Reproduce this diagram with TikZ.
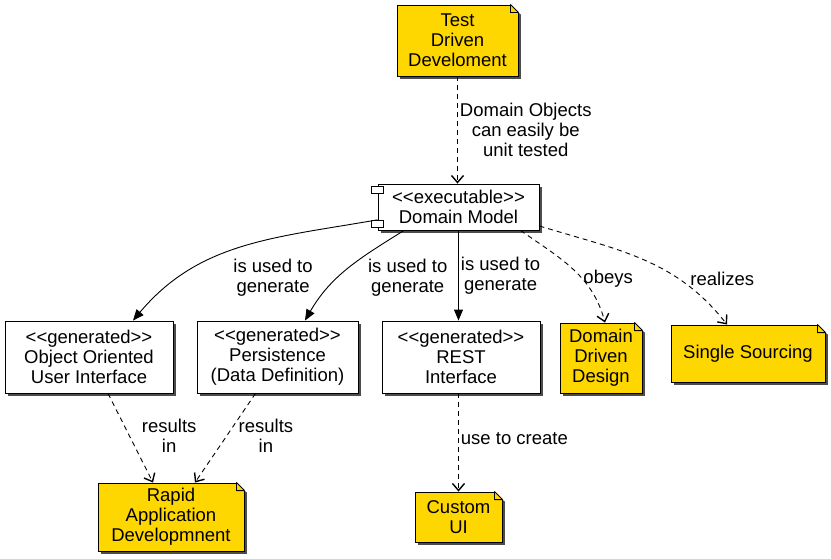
\documentclass[tikz,border=0pt]{standalone}
\usepackage{fontspec}
\setmainfont{Liberation Sans}
\usetikzlibrary{arrows.meta,shadows}
\definecolor{notegold}{RGB}{255,215,0}
\newcommand{\stereo}[1]{<\kern0pt<#1>\kern0pt>}
\tikzset{box/.style={draw,fill=white,align=center,line width=0.9pt,inner sep=2pt,
    drop shadow={shadow xshift=3pt,shadow yshift=-3pt,fill=black!70,opacity=1}},
  note/.style={box,fill=notegold},
  lbl/.style={align=center,inner sep=2pt},
  arr/.style={-{Triangle[length=11pt,width=9pt]},line width=0.9pt},
  dep/.style={-{Straight Barb[length=7pt,width=12pt,line width=1.4pt]},line width=0.9pt,dash pattern=on 5pt off 4pt}}

\begin{document}
\begin{tikzpicture}[x=1pt,y=1pt,font=\fontsize{18.5}{20}\selectfont]
\fill[white,use as bounding box] (0,0) rectangle (831,-559);
\node[note,minimum width=121pt,minimum height=71pt] (tdd) at (457.5,-40.5) {Test\\Driven\\Develoment};
\node[box,minimum width=161pt,minimum height=46pt] (dm) at (458.5,-207) {\stereo{executable}\\Domain Model};
\node[box,minimum width=168pt,minimum height=72pt] (ooui) at (89,-357) {\stereo{generated}\\Object Oriented\\User Interface};
\node[box,minimum width=161pt,minimum height=72pt] (pers) at (277.5,-357) {\stereo{generated}\\Persistence\\(Data Definition)};
\node[box,minimum width=158pt,minimum height=72pt] (rest) at (461,-357) {\stereo{generated}\\REST\\Interface};
\node[note,minimum width=82pt,minimum height=70pt] (ddd) at (601,-358) {Domain\\Driven\\Design};
\node[note,minimum width=154pt,minimum height=57pt] (ss) at (748,-353.5) {Single Sourcing};
\node[note,minimum width=146pt,minimum height=68pt] (rad) at (171,-517) {Rapid\\Application\\Developmnent};
\node[note,minimum width=87pt,minimum height=50pt] (cui) at (458.5,-517) {Custom\\UI};
% folded corners of the notes
\foreach \n in {tdd,ddd,ss,rad,cui}{
  \fill[white] ([xshift=-8pt,yshift=1pt]\n.north east) -- ([xshift=4pt,yshift=1pt]\n.north east)
    -- ([xshift=4pt,yshift=-11pt]\n.north east) -- ([yshift=-8pt]\n.north east) -- ([xshift=-8pt]\n.north east) -- cycle;
  \draw[fill=notegold,line width=0.9pt,line join=bevel] ([xshift=-8pt]\n.north east) -- ([yshift=-8pt]\n.north east)
    -- ([shift={(-8pt,-8pt)}]\n.north east) -- cycle;
}
% component icon
\foreach \dy in {3,37}
  \draw[fill=white,line width=0.9pt] ([shift={(-6pt,-\dy pt)}]dm.north west) rectangle ++(12pt,-7pt);
\draw[dep] (tdd) -- node[lbl,right]{Domain Objects\\can easily be\\unit tested} (tdd.south |- dm.north);
\draw[arr] (dm.189) to[out=190,in=50] node[lbl,pos=.5,anchor=north west,xshift=-11pt,yshift=-9pt]{is used to\\generate} ([xshift=44pt]ooui.north);
\draw[arr] ([xshift=-54.5pt]dm.south) to[out=212,in=60] node[lbl,pos=.5,anchor=west,xshift=18pt,yshift=-9pt]{is used to\\generate} ([xshift=27.5pt]pers.north);
\draw[arr] (dm.south) -- node[lbl,right]{is used to\\generate} (dm.south |- rest.north);
\draw[dep] ([xshift=62pt]dm.south) to[out=-35,in=105] node[lbl,pos=.5,anchor=west,xshift=8pt,yshift=-9pt]{obeys} ([xshift=4pt]ddd.north);
\draw[dep] ([yshift=-19pt]dm.east) to[out=-17,in=128] node[lbl,pos=.7,anchor=west,xshift=9pt]{realizes} ([xshift=-21pt]ss.north);
\draw[dep] ([xshift=19pt]ooui.south) -- node[lbl,anchor=west,xshift=9pt,yshift=2pt]{results\\in} ([xshift=-18pt]rad.north);
\draw[dep] ([xshift=-22pt]pers.south) -- node[lbl,anchor=west,xshift=11pt,yshift=2pt]{results\\in} ([xshift=24pt]rad.north);
\draw[dep] (cui.north |- rest.south) -- node[lbl,right,yshift=4pt]{use to create} (cui.north);
\end{tikzpicture}
\end{document}
